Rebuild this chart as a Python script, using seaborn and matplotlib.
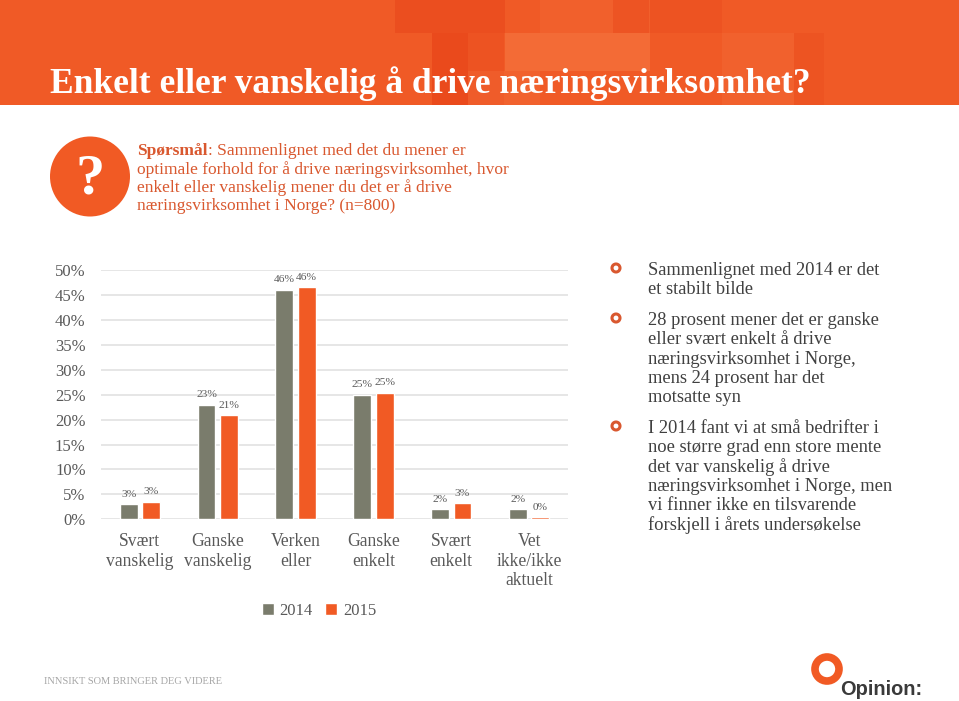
import matplotlib
matplotlib.use("Agg")
import matplotlib.pyplot as plt
from matplotlib.patches import Rectangle, Circle
import pandas as pd
import seaborn as sns

# chart values
categories = ["Svært\nvanskelig", "Ganske\nvanskelig", "Verken\neller",
              "Ganske\nenkelt", "Svært\nenkelt", "Vet\nikke/ikke\naktuelt"]
values_2014 = [3.0, 23.0, 46.0, 25.0, 2.0, 2.0]
values_2015 = [3.5, 20.9, 46.5, 25.4, 3.2, 0.4]
labels_2014 = ["3%", "23%", "46%", "25%", "2%", "2%"]
labels_2015 = ["3%", "21%", "46%", "25%", "3%", "0%"]
y_ticks = [0, 5, 10, 15, 20, 25, 30, 35, 40, 45, 50]
y_ticklabels = ["0%", "5%", "10%", "15%", "20%", "25%", "30%", "35%", "40%", "45%", "50%"]

title = "Enkelt eller vanskelig å drive næringsvirksomhet?"
question_lines = [
    "optimale forhold for å drive næringsvirksomhet, hvor",
    "enkelt eller vanskelig mener du det er å drive",
    "næringsvirksomhet i Norge? (n=800)",
]
bullets = [
    ["Sammenlignet med 2014 er det", "et stabilt bilde"],
    ["28 prosent mener det er ganske", "eller svært enkelt å drive",
     "næringsvirksomhet i Norge,", "mens 24 prosent har det", "motsatte syn"],
    ["I 2014 fant vi at små bedrifter i", "noe større grad enn store mente",
     "det var vanskelig å drive", "næringsvirksomhet i Norge, men",
     "vi finner ikke en tilsvarende", "forskjell i årets undersøkelse"],
]

GREY = "#7A7C6C"
ORANGE = "#F15A24"
TEXT = "#595959"
W, H = 959, 701

sns.set_theme(style="whitegrid")
plt.rcParams["font.family"] = ["Liberation Serif", "DejaVu Serif"]

fig = plt.figure(figsize=(W / 100, H / 100), dpi=100)

# page layer in pixel coordinates, for the banner and the text around the chart
bg = fig.add_axes([0, 0, 1, 1], zorder=0)
bg.set_xlim(0, W)
bg.set_ylim(H, 0)
bg.axis("off")

bg.add_patch(Rectangle((0, 0), W, 105, color="#F05A26", lw=0))
# banner squares: x, y, w, h, colour, alpha
squares = [
    (395, 0, 110, 33, "#E8431A", 0.5),
    (432, 33, 36, 72, "#E63E14", 0.55),
    (468, 33, 36, 72, "#E8431A", 0.3),
    (505, 33, 145, 38, "#F8854F", 0.4),
    (468, 71, 72, 34, "#F8854F", 0.2),
    (540, 0, 110, 33, "#F8854F", 0.15),
    (613, 0, 36, 33, "#E63E14", 0.35),
    (650, 0, 72, 33, "#E8431A", 0.3),
    (722, 33, 72, 72, "#F8854F", 0.18),
    (794, 33, 30, 72, "#E8431A", 0.25),
]
for sx, sy, sw, sh, col, al in squares:
    bg.add_patch(Rectangle((sx, sy), sw, sh, color=col, alpha=al, lw=0))

bg.text(50, 93, title, color="white", fontsize=25.5, fontweight="bold", va="baseline")

bg.add_patch(Circle((90, 176.5), 40, color=ORANGE, lw=0))
bg.text(90, 180, "?", color="white", fontsize=42, fontweight="bold", ha="center", va="center")

q_x = 137
q_color = "#D9582F"
q_size = 12.5
t = bg.text(q_x, 155, "Spørsmål", color=q_color, fontsize=q_size, fontweight="bold", va="baseline")
fig.canvas.draw()
end = t.get_window_extent().x1
bg.text(end, 155, ": Sammenlignet med det du mener er", color=q_color, fontsize=q_size, va="baseline")
for i, line in enumerate(question_lines):
    bg.text(q_x, 174 + i * 18, line, color=q_color, fontsize=q_size, va="baseline")

# bullet list on the right
bullet_y = [275, 325, 433]
for start, lines in zip(bullet_y, bullets):
    bg.add_patch(Circle((616, start - 7), 4, facecolor="none", edgecolor="#D9582F", lw=2.2))
    for i, line in enumerate(lines):
        bg.text(648, start + i * 19.3, line, color="#404040", fontsize=13.3, va="baseline")

bg.text(44, 681, "INNSIKT SOM BRINGER DEG VIDERE", color="#A6A6A6", fontsize=7.5, va="center")

# logo
bg.add_patch(Circle((827, 669), 12, facecolor="none", edgecolor=ORANGE, lw=5.5))
bg.text(840, 695, "Opinion:", color="#3A3A3A", fontsize=14.4, fontweight="bold",
        family="Liberation Sans", va="baseline")

# the chart itself
left, right, top, bottom = 101, 568, 270, 519.3
ax = fig.add_axes([left / W, 1 - bottom / H, (right - left) / W, (bottom - top) / H], zorder=1)
ax.patch.set_alpha(0)

df = pd.DataFrame({
    "kategori": categories * 2,
    "andel": values_2014 + values_2015,
    "år": ["2014"] * len(categories) + ["2015"] * len(categories),
})
sns.barplot(data=df, x="kategori", y="andel", hue="år", palette=[GREY, ORANGE],
            width=0.576, gap=0.205, saturation=1, ax=ax, legend=True)

for container, labels in zip(ax.containers, [labels_2014, labels_2015]):
    ax.bar_label(container, labels=labels, padding=4, fontsize=8.2, color=TEXT)

ax.set_ylim(0, 50)
ax.set_yticks(y_ticks)
ax.set_yticklabels(y_ticklabels, fontsize=12, color=TEXT)
ax.set_xlabel("")
ax.set_ylabel("")
ax.tick_params(axis="y", length=0, pad=11)
ax.tick_params(axis="x", length=0, pad=10, labelsize=12.7, labelcolor=TEXT)
for lab in ax.get_xticklabels():
    lab.set_linespacing(1.2)
ax.grid(axis="x", visible=False)
ax.grid(axis="y", color="#E4E4E4", lw=1.3)
ax.set_axisbelow(True)
sns.despine(ax=ax, left=True, bottom=True, top=True, right=True)

ax.legend(loc="center", bbox_to_anchor=((319 - left) / (right - left), (bottom - 611) / (bottom - top)),
          ncol=2, frameon=False, fontsize=12, labelcolor=TEXT, title=None,
          handlelength=0.7, handleheight=0.7, handletextpad=0.35, columnspacing=0.75)

fig.savefig("out.png", dpi=100)
